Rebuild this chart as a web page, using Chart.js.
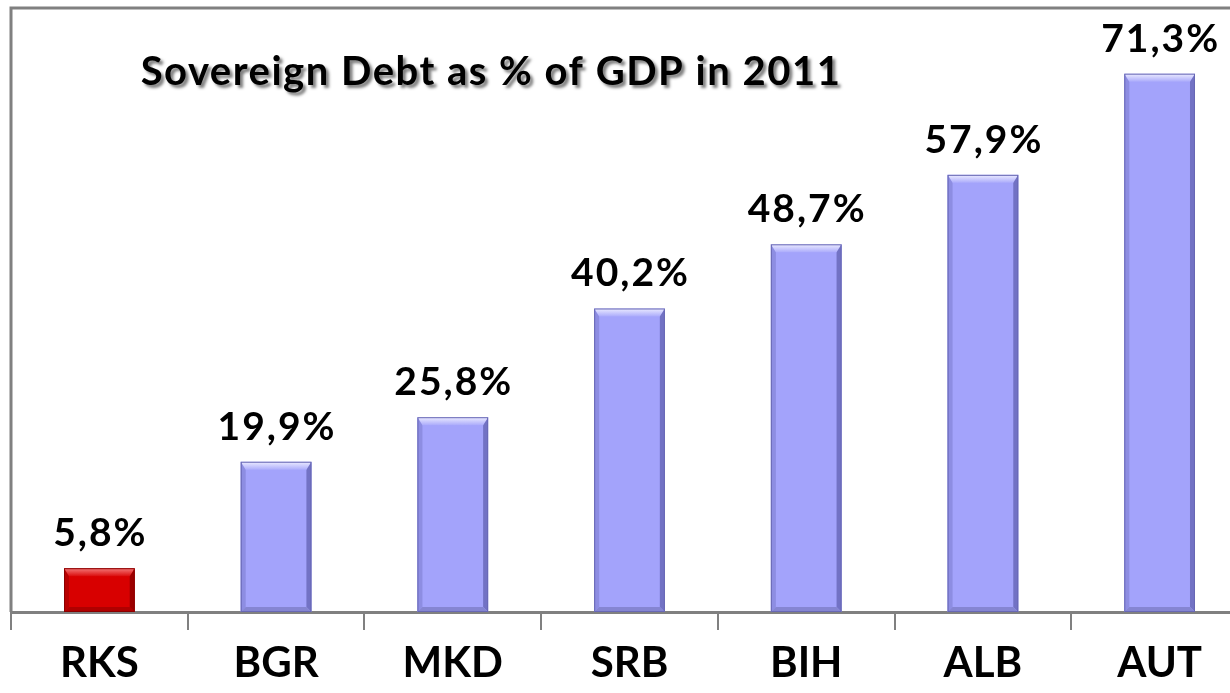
<!DOCTYPE html>
<html>
<head>
<meta charset="utf-8">
<script src="https://cdn.jsdelivr.net/npm/chart.js@4.4.1/dist/chart.umd.min.js"></script>
<style>
  html, body { margin: 0; padding: 0; background: #fff; overflow: hidden; width: 1230px; height: 693px; }
  #c { position: absolute; left: 0; top: 0; }
</style>
</head>
<body>
<canvas id="c" width="1260" height="693"></canvas>
<script>
/* Sovereign debt bar chart, bevelled bars + value labels over each bar. */
const countries = ["RKS", "BGR", "MKD", "SRB", "BIH", "ALB", "AUT"];
const debtPct = [5.8, 19.9, 25.8, 40.2, 48.7, 57.9, 71.3];
const highlight = "RKS";
const chartTitle = "Sovereign Debt as % of GDP in 2011";

const GRAY = "#808080";
const FONT = "Lato, 'Open Sans', sans-serif";
const pal = {
  blue: { fill: "#a3a3fb", top: "#ececff", left: "#8d8de2", right: "#7272c4", bottom: "#8585d2", line: "#6868b4" },
  red: { fill: "#d80000", top: "#f47a7a", left: "#b80000", right: "#9c0000", bottom: "#b00000", line: "#8a0000" },
};
const fmt = (v) => v.toFixed(1).replace(".", ",") + "%";
const palFor = (i) => (countries[i] === highlight ? pal.red : pal.blue);

const bevel = {
  id: "bevel",
  afterDatasetsDraw(chart) {
    const ctx = chart.ctx;
    chart.getDatasetMeta(0).data.forEach((bar, i) => {
      const p = palFor(i);
      const l = bar.x - bar.width / 2, r = bar.x + bar.width / 2, t = bar.y, b = bar.base;
      const e = 5;
      ctx.save();
      // left
      ctx.fillStyle = p.left;
      ctx.beginPath(); ctx.moveTo(l, t); ctx.lineTo(l + e, t + e); ctx.lineTo(l + e, b - e); ctx.lineTo(l, b); ctx.closePath(); ctx.fill();
      // right
      ctx.fillStyle = p.right;
      ctx.beginPath(); ctx.moveTo(r, t); ctx.lineTo(r - e, t + e); ctx.lineTo(r - e, b - e); ctx.lineTo(r, b); ctx.closePath(); ctx.fill();
      // bottom
      ctx.fillStyle = p.bottom;
      ctx.beginPath(); ctx.moveTo(l, b); ctx.lineTo(l + e, b - e); ctx.lineTo(r - e, b - e); ctx.lineTo(r, b); ctx.closePath(); ctx.fill();
      // top highlight
      const g = ctx.createLinearGradient(0, t, 0, t + e + 4);
      g.addColorStop(0, p.top); g.addColorStop(1, p.fill);
      ctx.fillStyle = g;
      ctx.beginPath(); ctx.moveTo(l, t); ctx.lineTo(r, t); ctx.lineTo(r - e, t + e + 3); ctx.lineTo(l + e, t + e + 3); ctx.closePath(); ctx.fill();
      ctx.strokeStyle = p.line; ctx.lineWidth = 1;
      ctx.strokeRect(l + 0.5, t + 0.5, r - l - 1, b - t - 1);
      // value label
      ctx.fillStyle = "#000";
      ctx.font = "bold 39px " + FONT;
      ctx.textAlign = "center"; ctx.textBaseline = "alphabetic";
      ctx.letterSpacing = "2px";
      ctx.fillText(fmt(debtPct[i]), bar.x + 1, t - 22);
      ctx.restore();
    });
  },
};

const frame = {
  id: "frame",
  afterDraw(chart) {
    const { ctx, chartArea: a } = chart;
    ctx.save();
    ctx.strokeStyle = GRAY; ctx.lineWidth = 3;
    ctx.beginPath(); ctx.moveTo(a.left, a.bottom); ctx.lineTo(a.left, a.top); ctx.lineTo(a.right + 20, a.top); ctx.stroke();
    // title with soft shadow
    ctx.font = "bold 40px " + FONT;
    ctx.letterSpacing = "1.5px";
    ctx.textAlign = "center"; ctx.textBaseline = "alphabetic";
    ctx.shadowColor = "rgba(0,0,0,0.5)"; ctx.shadowOffsetX = 3; ctx.shadowOffsetY = 3; ctx.shadowBlur = 3;
    ctx.fillStyle = "#000";
    ctx.fillText(chartTitle, 491, 85);
    ctx.restore();
  },
};

new Chart(document.getElementById("c"), {
  type: "bar",
  data: {
    labels: countries,
    datasets: [{
      data: debtPct,
      backgroundColor: countries.map((c, i) => palFor(i).fill),
      borderWidth: 0,
      categoryPercentage: 1,
      barPercentage: 0.4,
    }],
  },
  options: {
    responsive: false,
    animation: false,
    layout: { padding: { left: 11, top: 8, right: 12, bottom: 0 } },
    plugins: { legend: { display: false }, tooltip: { enabled: false }, title: { display: false } },
    scales: {
      x: {
        afterFit: (s) => { s.height = 81; },
        border: { display: true, color: GRAY, width: 3 },
        grid: { display: true, offset: true, drawOnChartArea: false, drawTicks: true, tickLength: 18, color: GRAY, lineWidth: 2 },
        ticks: { color: "#000", font: { family: FONT, size: 42, weight: "bold" }, padding: 8, maxRotation: 0 },
      },
      y: { display: false, min: 0, max: 80 },
    },
  },
  plugins: [bevel, frame],
});
</script>
</body>
</html>
